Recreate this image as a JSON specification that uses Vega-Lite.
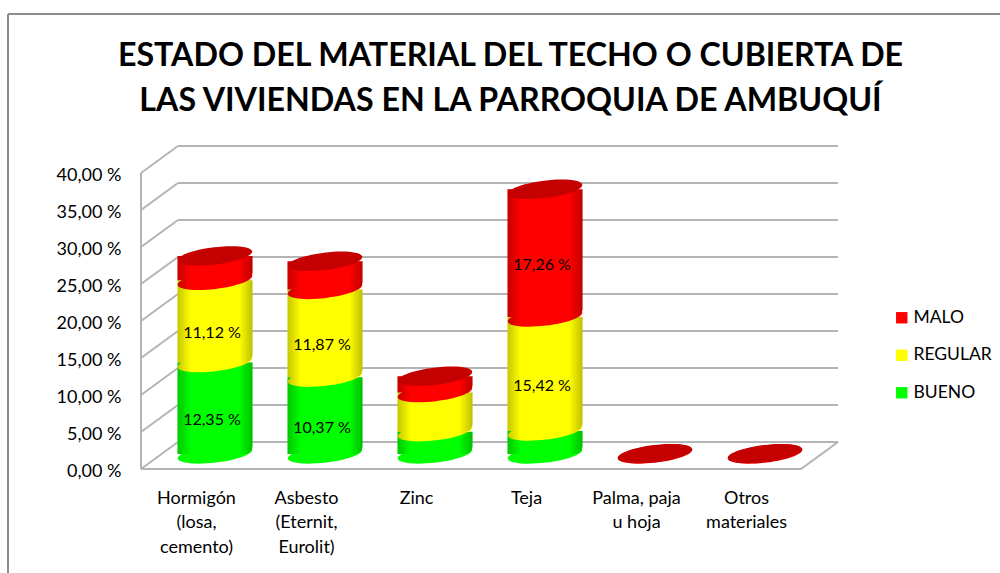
{
"$schema":"https://vega.github.io/schema/vega-lite/v6.json",
"autosize":{"type":"none"},
"padding":{"left":141,"top":146,"right":162,"bottom":104},
"width":697,"height":323,
"background":"white",
"config":{"view":{"stroke":null},"font":"Lato"},
"title":{"text":["ESTADO DEL MATERIAL DEL TECHO O CUBIERTA DE","LAS VIVIENDAS EN LA PARROQUIA DE AMBUQUÍ"],"anchor":"middle","frame":"group","dx":21,"offset":-105,"fontSize":32.2,"fontWeight":"bold","font":"Lato","lineHeight":45,"color":"#000000"},
"datasets":{
"muros":[
{"x":-0.709,"y":61.49,"x2":8.309,"y2":61.49,"t":"marco"},
{"x":-0.709,"y":61.49,"x2":-0.709,"y2":-14.05,"t":"marco"},
{"x":0.5,"y":0,"x2":0.5,"y2":40,"t":"muro"},
{"x":0.5,"y":0,"x2":6.5,"y2":0,"t":"muro"},
{"x":6.5,"y":0,"x2":6.836,"y2":3.65,"t":"muro"},
{"x":0.5,"y":0,"x2":0.836,"y2":3.65,"t":"muro"},
{"x":0.5,"y":5,"x2":0.836,"y2":8.65,"t":"muro"},
{"x":0.5,"y":10,"x2":0.836,"y2":13.65,"t":"muro"},
{"x":0.5,"y":15,"x2":0.836,"y2":18.65,"t":"muro"},
{"x":0.5,"y":20,"x2":0.836,"y2":23.65,"t":"muro"},
{"x":0.5,"y":25,"x2":0.836,"y2":28.65,"t":"muro"},
{"x":0.5,"y":30,"x2":0.836,"y2":33.65,"t":"muro"},
{"x":0.5,"y":35,"x2":0.836,"y2":38.65,"t":"muro"},
{"x":0.5,"y":40,"x2":0.836,"y2":43.65,"t":"muro"},
{"x":0.836,"y":3.65,"x2":6.836,"y2":3.65,"t":"muro"},
{"x":0.836,"y":8.65,"x2":6.836,"y2":8.65,"t":"muro"},
{"x":0.836,"y":13.65,"x2":6.836,"y2":13.65,"t":"muro"},
{"x":0.836,"y":18.65,"x2":6.836,"y2":18.65,"t":"muro"},
{"x":0.836,"y":23.65,"x2":6.836,"y2":23.65,"t":"muro"},
{"x":0.836,"y":28.65,"x2":6.836,"y2":28.65,"t":"muro"},
{"x":0.836,"y":33.65,"x2":6.836,"y2":33.65,"t":"muro"},
{"x":0.836,"y":38.65,"x2":6.836,"y2":38.65,"t":"muro"},
{"x":0.836,"y":43.65,"x2":6.836,"y2":43.65,"t":"muro"}
],
"techos":[
{"material":"Hormigón (losa, cemento)","n":1,"estado":"BUENO","orden":1,"valor":12.35,"etiqueta":"12,35 %"},
{"material":"Hormigón (losa, cemento)","n":1,"estado":"REGULAR","orden":2,"valor":11.12,"etiqueta":"11,12 %"},
{"material":"Hormigón (losa, cemento)","n":1,"estado":"MALO","orden":3,"valor":3.3,"etiqueta":""},
{"material":"Asbesto (Eternit, Eurolit)","n":2,"estado":"BUENO","orden":1,"valor":10.37,"etiqueta":"10,37 %"},
{"material":"Asbesto (Eternit, Eurolit)","n":2,"estado":"REGULAR","orden":2,"valor":11.87,"etiqueta":"11,87 %"},
{"material":"Asbesto (Eternit, Eurolit)","n":2,"estado":"MALO","orden":3,"valor":3.8,"etiqueta":""},
{"material":"Zinc","n":3,"estado":"BUENO","orden":1,"valor":3.0,"etiqueta":""},
{"material":"Zinc","n":3,"estado":"REGULAR","orden":2,"valor":5.3,"etiqueta":""},
{"material":"Zinc","n":3,"estado":"MALO","orden":3,"valor":2.2,"etiqueta":""},
{"material":"Teja","n":4,"estado":"BUENO","orden":1,"valor":3.1,"etiqueta":""},
{"material":"Teja","n":4,"estado":"REGULAR","orden":2,"valor":15.42,"etiqueta":"15,42 %"},
{"material":"Teja","n":4,"estado":"MALO","orden":3,"valor":17.26,"etiqueta":"17,26 %"},
{"material":"Palma, paja u hoja","n":5,"estado":"BUENO","orden":1,"valor":0,"etiqueta":""},
{"material":"Palma, paja u hoja","n":5,"estado":"REGULAR","orden":2,"valor":0,"etiqueta":""},
{"material":"Palma, paja u hoja","n":5,"estado":"MALO","orden":3,"valor":0.05,"etiqueta":""},
{"material":"Otros materiales","n":6,"estado":"BUENO","orden":1,"valor":0,"etiqueta":""},
{"material":"Otros materiales","n":6,"estado":"REGULAR","orden":2,"valor":0,"etiqueta":""},
{"material":"Otros materiales","n":6,"estado":"MALO","orden":3,"valor":0.05,"etiqueta":""}
]},
"data":{"name":"techos"},
"transform":[
{"stack":"valor","groupby":["n"],"sort":[{"field":"orden","order":"ascending"}],"as":["y0","y1"]},
{"calculate":"(datum.y0+datum.y1)/2","as":"medio"}
],
"encoding":{
"x":{"field":"n","type":"quantitative","scale":{"domain":[0.5,6.836],"nice":false,"zero":false,"padding":0},
"axis":{"values":[1,2,3,4,5,6],"title":null,"grid":false,"domain":false,"ticks":false,"labelFontSize":18,"labelColor":"#000000","labelPadding":20,"labelLineHeight":24.5,"labelBaseline":"top","labelAngle":0,"labelFlush":false,"labelOverlap":false,
"labelExpr":"[['Hormigón','(losa,','cemento)'],['Asbesto','(Eternit,','Eurolit)'],['Zinc'],['Teja'],['Palma, paja','u hoja'],['Otros','materiales']][datum.value-1]"}},
"y":{"type":"quantitative","scale":{"domain":[0,43.65],"nice":false,"padding":0},
"axis":{"values":[0,5,10,15,20,25,30,35,40],"title":null,"grid":false,"domain":false,"ticks":false,"labelFontSize":18,"labelColor":"#000000","labelPadding":20,"labelOffset":2.5,"labelOverlap":false,
"labelExpr":"replace(format(datum.value,'.2f'),'.',',')+' %'"}}
},
"layer":[
{"data":{"name":"muros"},"transform":[],
"mark":{"type":"rule","strokeWidth":2,"clip":false},
"encoding":{"x":{"field":"x","type":"quantitative"},"x2":{"field":"x2"},"y":{"field":"y","type":"quantitative"},"y2":{"field":"y2"},
"color":{"condition":{"test":"datum.t==='marco'","value":"#8c8c8c"},"value":"#b4b4b4"}}},
{"transform":[{"filter":"datum.valor>0.1"}],
"mark":{"type":"bar","size":75,"xOffset":19,"yOffset":-15,"y2Offset":-15,"cornerRadiusBottomRight":8},
"encoding":{"y":{"field":"y0","type":"quantitative"},"y2":{"field":"y1"},
"color":{"field":"estado","type":"nominal","scale":{"domain":["MALO","REGULAR","BUENO"],"range":["#ff0000","#ffff00","#00ff00"]},
"legend":{"orient":"none","legendX":752,"legendY":163,"title":null,"symbolType":"square","symbolSize":130,"labelFontSize":17.5,"labelColor":"#000000","rowPadding":18.5,"symbolStrokeWidth":0,"labelOffset":3}}}},
{"transform":[{"filter":"datum.valor>0"}],
"mark":{"type":"point","filled":true,"opacity":1,"size":5625,"angle":-7,"strokeWidth":0,"xOffset":19,"yOffset":-15,"shape":"M-1,0A1,0.23,0,1,1,1,0A1,0.23,0,1,1,-1,0Z"},
"encoding":{"y":{"field":"y0","type":"quantitative"},"color":{"field":"estado","type":"nominal","legend":null}}},
{"transform":[{"filter":"datum.valor>0.1"}],
"mark":{"type":"bar","size":75,"xOffset":19,"yOffset":-15,"y2Offset":-15,"cornerRadiusBottomRight":8,"fill":{"gradient":"linear","x1":0,"y1":0,"x2":1,"y2":0,"stops":[{"offset":0,"color":"rgba(0,0,0,0.22)"},{"offset":0.18,"color":"rgba(0,0,0,0)"},{"offset":0.82,"color":"rgba(0,0,0,0)"},{"offset":1,"color":"rgba(0,0,0,0.25)"}]}},
"encoding":{"y":{"field":"y0","type":"quantitative"},"y2":{"field":"y1"}}},
{"transform":[{"filter":"datum.estado==='MALO'"}],
"mark":{"type":"point","filled":true,"opacity":1,"size":5625,"angle":-7,"strokeWidth":0,"color":"#c40000","xOffset":19,"yOffset":-15,"shape":"M-1,0A1,0.23,0,1,1,1,0A1,0.23,0,1,1,-1,0Z"},
"encoding":{"y":{"field":"y1","type":"quantitative"}}},
{"transform":[{"filter":"datum.etiqueta!==''"}],
"mark":{"type":"text","fontSize":16,"color":"#000000","xOffset":16,"yOffset":-3,"font":"Lato"},
"encoding":{"y":{"field":"medio","type":"quantitative"},"text":{"field":"etiqueta"}}}
]
}
